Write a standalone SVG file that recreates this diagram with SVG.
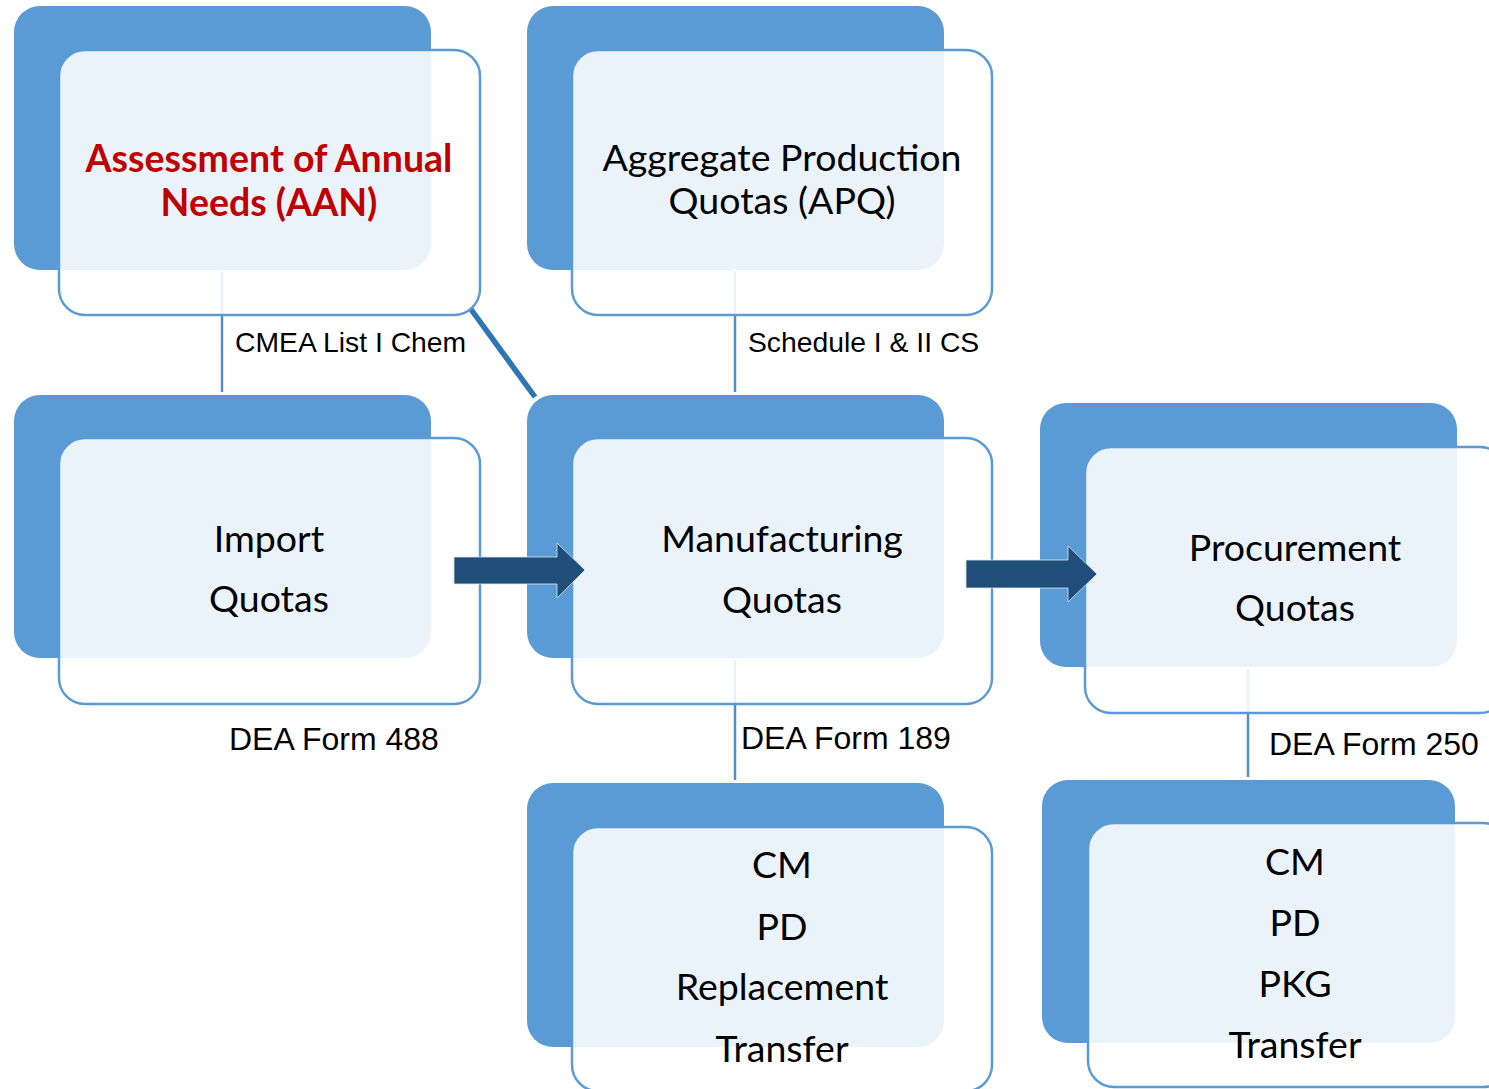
<svg xmlns="http://www.w3.org/2000/svg" width="1489" height="1089" viewBox="0 0 1489 1089">
  <style>
    .back { fill: #5B9BD5; }
    .front { fill: #FFFFFF; fill-opacity: 0.88; stroke: #5B9BD5; stroke-width: 2.5; }
    .title { font-family: Lato, "Open Sans", sans-serif; font-size: 37.5px; fill: #000000; text-anchor: middle; }
    .title.red { fill: #C00000; font-weight: bold; font-size: 37.5px; }
    .link { stroke: #5A8DC6; stroke-width: 2.5; fill: none; }
    .label { font-family: "Liberation Sans", Arial, sans-serif; fill: #000000; }
    .lbl-top { font-size: 28.3px; }
    .lbl-form { font-size: 32px; }
    .flow { fill: #1F4E79; stroke: #DCE6F0; stroke-width: 0.8; }
  </style>

  <!-- connecting lines, drawn beneath the boxes -->
  <g id="connectors">
    <line class="link" x1="222" y1="271" x2="222" y2="392"/>
    <line class="link" x1="735" y1="271" x2="735" y2="392"/>
    <line class="link" x1="735" y1="660" x2="735" y2="780"/>
    <line class="link" x1="1248" y1="669" x2="1248" y2="777"/>
    <line x1="470" y1="308" x2="535" y2="397" stroke="#2E75B6" stroke-width="5.5"/>
  </g>

  <g id="node-aan">
    <rect class="back" x="14" y="6" width="417" height="264" rx="26"/>
    <rect class="front" x="59" y="50" width="421" height="265" rx="26"/>
    <text class="title red" x="269" y="172">Assessment of Annual</text>
    <text class="title red" x="269" y="216">Needs (AAN)</text>
  </g>

  <g id="node-apq">
    <rect class="back" x="527" y="6" width="417" height="264" rx="26"/>
    <rect class="front" x="572" y="50" width="420" height="265" rx="26"/>
    <text class="title" x="782" y="171">Aggregate Production</text>
    <text class="title" x="782" y="214">Quotas (APQ)</text>
  </g>

  <g id="node-import">
    <rect class="back" x="14" y="395" width="417" height="263" rx="26"/>
    <rect class="front" x="59" y="438" width="421" height="266" rx="26"/>
    <text class="title" x="269" y="552">Import</text>
    <text class="title" x="269" y="612">Quotas</text>
  </g>

  <g id="node-manufacturing">
    <rect class="back" x="527" y="395" width="417" height="263" rx="26"/>
    <rect class="front" x="572" y="438" width="420" height="266" rx="26"/>
    <text class="title" x="782" y="552">Manufacturing</text>
    <text class="title" x="782" y="613">Quotas</text>
  </g>

  <g id="node-procurement">
    <rect class="back" x="1040" y="403" width="417" height="264" rx="26"/>
    <rect class="front" x="1085" y="447" width="421" height="266" rx="26"/>
    <text class="title" x="1295" y="561">Procurement</text>
    <text class="title" x="1295" y="621">Quotas</text>
  </g>

  <g id="node-mfg-types">
    <rect class="back" x="527" y="783" width="417" height="264" rx="26"/>
    <rect class="front" x="572" y="827" width="420" height="264" rx="26"/>
    <text class="title" x="782" y="878">CM</text>
    <text class="title" x="782" y="940">PD</text>
    <text class="title" x="782" y="1000">Replacement</text>
    <text class="title" x="782" y="1062">Transfer</text>
  </g>

  <g id="node-proc-types">
    <rect class="back" x="1042" y="780" width="413" height="263" rx="26"/>
    <rect class="front" x="1088" y="823" width="421" height="264" rx="26"/>
    <text class="title" x="1295" y="875">CM</text>
    <text class="title" x="1295" y="936">PD</text>
    <text class="title" x="1295" y="997">PKG</text>
    <text class="title" x="1295" y="1058">Transfer</text>
  </g>

  <!-- flow arrows between quota stages -->
  <g id="arrows">
    <polygon class="flow" points="454,557 557,557 557,543 585,570 557,598 557,584 454,584"/>
    <polygon class="flow" points="966,560 1068,560 1068,546 1097,574 1068,602 1068,588 966,588"/>
  </g>

  <!-- line labels -->
  <g id="labels">
    <text class="label lbl-top" x="235" y="352">CMEA List I Chem</text>
    <text class="label lbl-top" x="748" y="352">Schedule I &amp; II CS</text>
    <text class="label lbl-form" x="229" y="750">DEA Form 488</text>
    <text class="label lbl-form" x="741" y="749">DEA Form 189</text>
    <text class="label lbl-form" x="1269" y="755">DEA Form 250</text>
  </g>
</svg>
